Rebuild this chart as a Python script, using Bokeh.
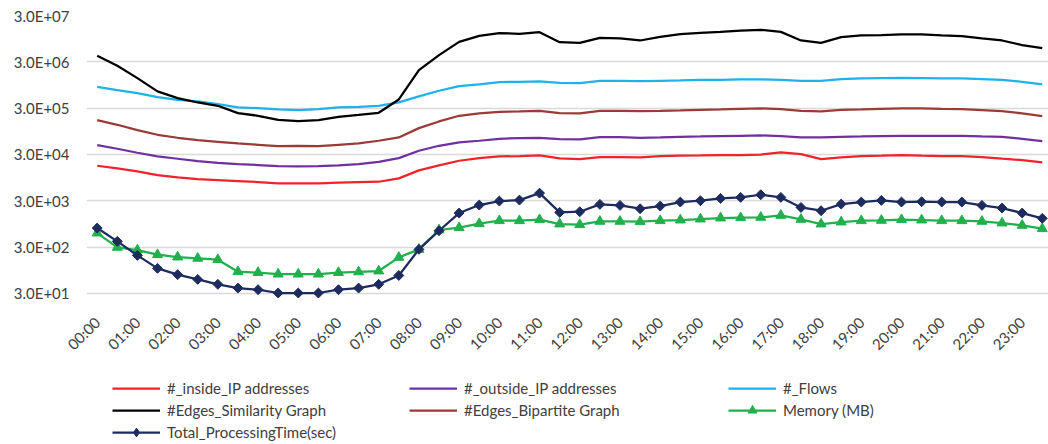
import math
from bokeh.plotting import figure
from bokeh.layouts import column
from bokeh.models import Range1d, FixedTicker, Legend, LegendItem
from bokeh.embed import file_html
from bokeh.resources import INLINE

# ---- data ----
hours = ["00:00", "01:00", "02:00", "03:00", "04:00", "05:00", "06:00", "07:00",
         "08:00", "09:00", "10:00", "11:00", "12:00", "13:00", "14:00", "15:00",
         "16:00", "17:00", "18:00", "19:00", "20:00", "21:00", "22:00", "23:00"]

y_ticks = [30, 300, 3000, 30000, 300000, 3000000, 30000000]
y_labels = ["3.0E+01", "3.0E+02", "3.0E+03", "3.0E+04", "3.0E+05", "3.0E+06", "3.0E+07"]

inside_ip = [17080, 14960, 12890, 10740, 9560, 8810, 8380, 7970, 7580, 7100, 7100, 7100,
             7340, 7580, 7710, 9100, 13550, 17370, 21900, 25000, 27200, 27600, 28500, 24600,
             23800, 26300, 26300, 25800, 27600, 28100, 28500, 29000, 29000, 29800, 33200, 30500,
             23800, 25800, 27600, 28100, 29000, 28100, 27600, 27600, 26300, 24200, 22600, 20200]

outside_ip = [47700, 39800, 32600, 27200, 24200, 21500, 19800, 18500, 17700, 16800, 16500, 16800,
              17400, 18500, 20800, 25000, 36000, 46100, 54500, 59200, 65300, 67500, 68700, 64300,
              63200, 71000, 71000, 68700, 69900, 72200, 73400, 74700, 75900, 77200, 74700, 69900,
              69900, 72200, 73400, 74700, 75900, 75900, 75900, 75900, 73400, 72200, 65300, 58200]

flows = [866000, 734000, 633000, 518000, 454000, 418000, 366000, 310000, 300000, 281000, 272000, 286000,
         310000, 320000, 337000, 398000, 536000, 711000, 895000, 973000, 1092000, 1110000, 1129000, 1056000,
         1040000, 1167000, 1167000, 1148000, 1167000, 1186000, 1226000, 1226000, 1247000, 1247000, 1226000, 1167000,
         1167000, 1268000, 1311000, 1333000, 1355000, 1333000, 1311000, 1311000, 1268000, 1226000, 1110000, 973000]

edges_similarity = [4040000, 2460000, 1330000, 688000, 493000, 397000, 337000, 234000, 205000, 168000, 157000, 165000,
                    195000, 215000, 238000, 461000, 1980000, 4180000, 8100000, 10900000, 12500000, 12100000, 13100000, 7970000,
                    7710000, 9900000, 9570000, 8660000, 10400000, 11900000, 12700000, 13300000, 14200000, 14700000, 13300000, 8660000,
                    7710000, 10200000, 11100000, 11300000, 11700000, 11700000, 11100000, 10700000, 9570000, 8660000, 6870000, 5920000]

edges_bipartite = [165000, 131000, 100500, 79700, 68700, 61100, 56300, 51800, 48500, 45400, 46100, 45400,
                   48500, 51800, 59200, 69900, 111000, 154600, 205000, 230000, 250000, 254000, 262000, 234000,
                   230000, 262000, 262000, 258000, 262000, 267000, 276000, 281000, 290000, 295000, 286000, 262000,
                   254000, 276000, 281000, 290000, 295000, 295000, 290000, 286000, 272000, 258000, 230000, 201000]

memory_mb = [601, 295, 258, 205, 182, 171, 160, 88, 84, 78, 78, 78,
             84, 87, 91, 179, 267, 700, 784, 957, 1110, 1110, 1167, 941,
             910, 1074, 1074, 1056, 1110, 1148, 1206, 1268, 1290, 1311, 1446, 1186,
             941, 1040, 1110, 1129, 1167, 1148, 1110, 1110, 1074, 990, 881, 746]

processing_time = [771, 398, 198, 104, 76, 60, 47, 39, 36, 30.5, 30.5, 30.5,
                   36, 39, 47, 73, 267, 675, 1626, 2419, 2951, 3100, 4380, 1680,
                   1737, 2500, 2380, 2016, 2300, 2810, 3000, 3370, 3540, 4040, 3540, 2150,
                   1825, 2540, 2810, 3050, 2810, 2860, 2810, 2810, 2380, 2085, 1626, 1248]

x = list(range(len(inside_ip)))

FONT = "Lato"
TXT = "#404040"
LW = 2.25
C_IN, C_OUT, C_FL, C_ES, C_EB, C_MEM, C_PT = ("#f0232a", "#7030a0", "#1fb1ea", "#000000",
                                             "#9a3b38", "#21b04b", "#1d2b5e")
W = 1048
H1 = 363
H2 = 444 - H1
LEFT = 86


def draw_series(fig, legend_mode=False):
    r = {}
    r["in"] = [fig.line(x, inside_ip, line_color=C_IN, line_width=LW)]
    r["out"] = [fig.line(x, outside_ip, line_color=C_OUT, line_width=LW)]
    r["fl"] = [fig.line(x, flows, line_color=C_FL, line_width=LW)]
    r["es"] = [fig.line(x, edges_similarity, line_color=C_ES, line_width=LW)]
    r["eb"] = [fig.line(x, edges_bipartite, line_color=C_EB, line_width=LW)]
    r["mem"] = [fig.line(x, memory_mb, line_color=C_MEM, line_width=LW),
                fig.scatter(x, memory_mb, marker="triangle", size=10,
                            fill_color=C_MEM, line_color=C_MEM)]
    if legend_mode:
        pt_marker = fig.scatter(x, processing_time, marker="diamond", size=10,
                                fill_color=C_PT, line_color=C_PT)
    else:
        pt_marker = fig.scatter(x, processing_time, marker="square", angle=math.pi / 4, size=7,
                                fill_color=C_PT, line_color=C_PT)
    r["pt"] = [fig.line(x, processing_time, line_color=C_PT, line_width=LW), pt_marker]
    return r


p = figure(width=W, height=H1, y_axis_type="log",
           x_range=Range1d(-0.532, 47.31), y_range=Range1d(20, 3e7),
           output_backend="svg", toolbar_location=None,
           min_border_left=LEFT, min_border_right=0, min_border_top=15,
           min_border_bottom=H1 - 15 - 286)
p.outline_line_color = None
p.background_fill_color = "white"
p.border_fill_color = "white"

p.xgrid.visible = False
yt = FixedTicker(ticks=y_ticks)
p.yaxis.ticker = yt
p.ygrid.ticker = yt
p.ygrid.grid_line_color = "#d9d9d9"
p.ygrid.grid_line_width = 1.5
p.yaxis.major_label_overrides = {t: l for t, l in zip(y_ticks, y_labels)}

x_ticks = [2 * i for i in range(len(hours))]
p.xaxis.ticker = FixedTicker(ticks=x_ticks)
p.xaxis.major_label_overrides = {t: h for t, h in zip(x_ticks, hours)}
p.xaxis.major_label_orientation = math.pi / 4

for ax in (p.xaxis, p.yaxis):
    ax.axis_line_color = None
    ax.major_tick_line_color = None
    ax.minor_tick_line_color = None
    ax.major_tick_out = 0
    ax.major_tick_in = 0
    ax.minor_tick_out = 0
    ax.major_label_text_font = FONT
    ax.major_label_text_font_size = "15px"
    ax.major_label_text_color = TXT
p.yaxis.major_label_standoff = 17
p.xaxis.major_label_standoff = 18

draw_series(p)

# ---- legend strip below the chart (series drawn out of view, legend only) ----
q = figure(width=W, height=H2, x_range=Range1d(0, 1), y_range=Range1d(0, 1),
           output_backend="svg", toolbar_location=None,
           x_axis_location=None, y_axis_location=None,
           min_border_left=LEFT, min_border_right=0, min_border_top=0, min_border_bottom=0)
q.outline_line_color = None
q.grid.visible = False
q.background_fill_color = "white"
q.border_fill_color = "white"
g = draw_series(q, legend_mode=True)


def make_legend(items, loc):
    lg = Legend(items=items, location=loc, orientation="vertical")
    lg.label_text_font = FONT
    lg.label_text_font_size = "15px"
    lg.label_text_color = TXT
    lg.glyph_width = 48
    lg.glyph_height = 22
    lg.label_height = 18
    lg.label_standoff = 7
    lg.spacing = 0
    lg.padding = 0
    lg.margin = 0
    lg.border_line_color = None
    lg.background_fill_alpha = 0
    q.add_layout(lg, "center")


make_legend([LegendItem(label="#_inside_IP addresses", renderers=g["in"]),
             LegendItem(label="#Edges_Similarity Graph", renderers=g["es"]),
             LegendItem(label="Total_ProcessingTime(sec)", renderers=g["pt"])], (26, 1))
make_legend([LegendItem(label="#_outside_IP addresses", renderers=g["out"]),
             LegendItem(label="#Edges_Bipartite Graph", renderers=g["eb"])], (323, 23))
make_legend([LegendItem(label="#_Flows", renderers=g["fl"]),
             LegendItem(label="Memory (MB)", renderers=g["mem"])], (642, 23))

layout = column(p, q, spacing=0)
open("out.html", "w").write(file_html(layout, INLINE))
